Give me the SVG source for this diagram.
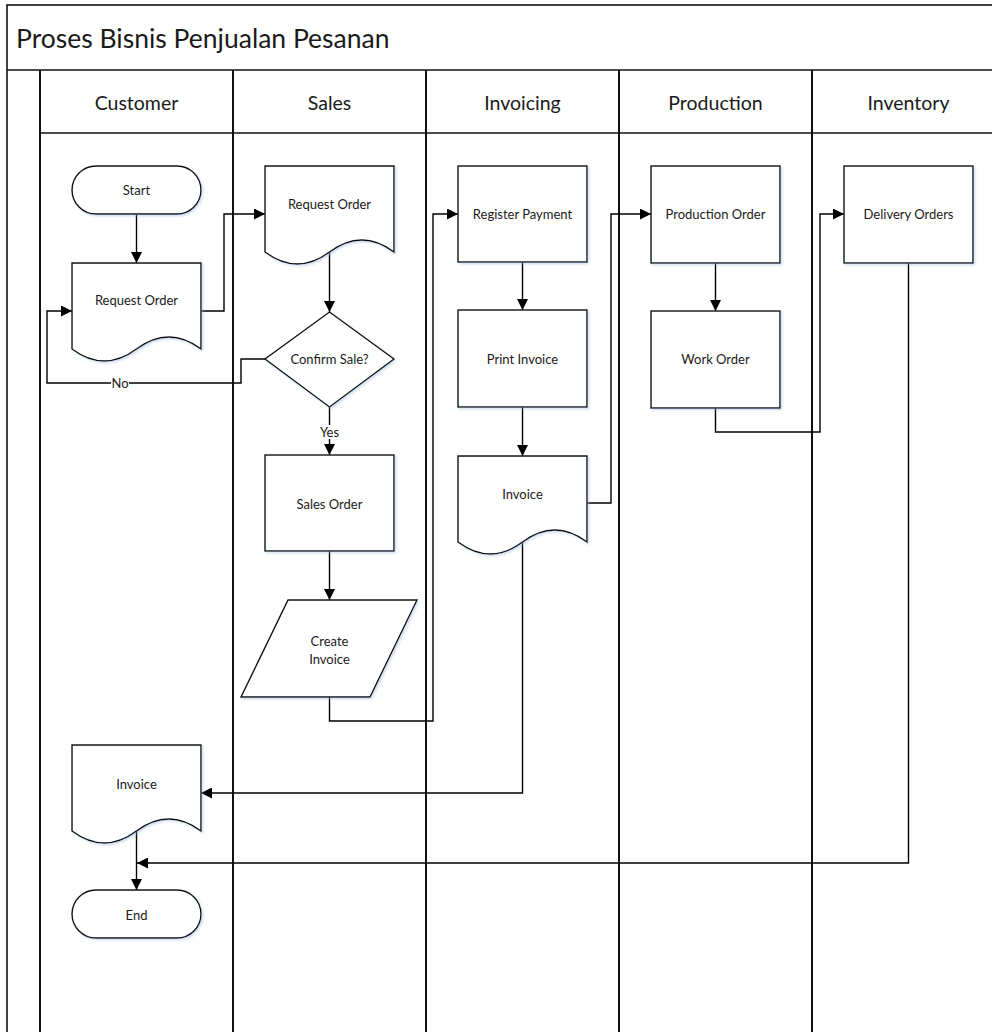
<svg xmlns="http://www.w3.org/2000/svg" width="992" height="1032" viewBox="0 0 992 1032">
<defs>
<style>
.pool{fill:none;stroke:#111;stroke-width:1.6}
.lane{fill:none;stroke:#111;stroke-width:2}
.shape{fill:#fff;stroke:#111;stroke-width:1.4;filter:url(#sh)}
.conn{fill:none;stroke:#000;stroke-width:1.4}
.t{font-family:Lato,Carlito,"Liberation Sans",sans-serif;fill:#1a1a1a;text-anchor:middle;dominant-baseline:central}
.node{font-size:13px}
.hdr{font-size:19.5px}
.title{font-size:26.5px;text-anchor:start}
.lbl{font-size:13px}
</style>
<filter id="sh" x="-10%" y="-10%" width="125%" height="125%">
<feDropShadow dx="1.5" dy="1.5" stdDeviation="1.2" flood-color="#8fb0dc" flood-opacity="0.45"/>
</filter>
<marker id="arr" markerUnits="userSpaceOnUse" markerWidth="11" markerHeight="11" viewBox="0 0 11 11" refX="11" refY="5.5" orient="auto">
<path d="M0,0 L11,5.5 L0,11 Z" fill="#000"/>
</marker>
</defs>
<rect width="992" height="1032" fill="#fff"/>
<g id="pool">
<rect class="pool" x="7" y="5" width="1010" height="1040"/>
<line class="pool" x1="7" y1="70" x2="992" y2="70"/>
<line class="lane" x1="40" y1="70" x2="40" y2="1032"/>
<line class="lane" x1="233" y1="70" x2="233" y2="1032"/>
<line class="lane" x1="426" y1="70" x2="426" y2="1032"/>
<line class="lane" x1="619" y1="70" x2="619" y2="1032"/>
<line class="lane" x1="812" y1="70" x2="812" y2="1032"/>
<line class="pool" x1="40" y1="133" x2="992" y2="133"/>
<text class="t title" x="16" y="38">Proses Bisnis Penjualan Pesanan</text>
<text class="t hdr" x="136.5" y="102">Customer</text>
<text class="t hdr" x="329.5" y="102">Sales</text>
<text class="t hdr" x="522.5" y="102">Invoicing</text>
<text class="t hdr" x="715.5" y="102">Production</text>
<text class="t hdr" x="908.5" y="102">Inventory</text>
</g>
<g id="connectors">
<path class="conn" d="M136.5,214 V263" marker-end="url(#arr)"/>
<path class="conn" d="M201,311 H224 V214 H265" marker-end="url(#arr)"/>
<path class="conn" d="M329.5,252 V312" marker-end="url(#arr)"/>
<path class="conn" d="M265,359 H241 V383 H47 V311 H72" marker-end="url(#arr)"/>
<path class="conn" d="M329.5,407 V455" marker-end="url(#arr)"/>
<path class="conn" d="M329.5,551 V600" marker-end="url(#arr)"/>
<path class="conn" d="M329.5,697 V721 H433 V214 H458" marker-end="url(#arr)"/>
<path class="conn" d="M522.5,262 V310" marker-end="url(#arr)"/>
<path class="conn" d="M522.5,407 V456" marker-end="url(#arr)"/>
<path class="conn" d="M587,503 H611 V214 H651" marker-end="url(#arr)"/>
<path class="conn" d="M522.5,542 V793 H201" marker-end="url(#arr)"/>
<path class="conn" d="M715.5,263 V311" marker-end="url(#arr)"/>
<path class="conn" d="M715.5,408 V432 H820 V214 H844" marker-end="url(#arr)"/>
<path class="conn" d="M908.5,263 V863 H137" marker-end="url(#arr)"/>
<path class="conn" d="M136.5,831 V890" marker-end="url(#arr)"/>
<rect x="111" y="376" width="18" height="14" fill="#fff"/>
<text class="t lbl" x="120" y="383">No</text>
<rect x="318" y="425" width="23" height="14" fill="#fff"/>
<text class="t lbl" x="329.5" y="432">Yes</text>
</g>
<g id="start">
<rect class="shape" x="72" y="166" width="129" height="48" rx="24"/>
<text class="t node" x="136.5" y="190">Start</text>
</g>
<g id="req-order-customer">
<path class="shape" d="M72,263 H201 V349 Q168.75,325 136.5,349 Q104.25,373 72,349 Z"/>
<text class="t node" x="136.5" y="300">Request Order</text>
</g>
<g id="invoice-customer">
<path class="shape" d="M72,745 H201 V831 Q168.75,807 136.5,831 Q104.25,855 72,831 Z"/>
<text class="t node" x="136.5" y="784">Invoice</text>
</g>
<g id="end">
<rect class="shape" x="72" y="890" width="129" height="48" rx="24"/>
<text class="t node" x="136.5" y="915">End</text>
</g>
<g id="req-order-sales">
<path class="shape" d="M265,166 H394 V252 Q361.75,228 329.5,252 Q297.25,276 265,252 Z"/>
<text class="t node" x="329.5" y="204">Request Order</text>
</g>
<g id="confirm-sale">
<path class="shape" d="M329.5,312 L394,359 L329.5,407 L265,359 Z"/>
<text class="t node" x="329.5" y="359">Confirm Sale?</text>
</g>
<g id="sales-order">
<rect class="shape" x="265" y="455" width="129" height="96"/>
<text class="t node" x="329.5" y="504">Sales Order</text>
</g>
<g id="create-invoice">
<path class="shape" d="M288,600 H417 L370,697 H241 Z"/>
<text class="t node" x="329.5" y="641">Create</text>
<text class="t node" x="329.5" y="659">Invoice</text>
</g>
<g id="register-payment">
<rect class="shape" x="458" y="166" width="129" height="96"/>
<text class="t node" x="522.5" y="214">Register Payment</text>
</g>
<g id="print-invoice">
<rect class="shape" x="458" y="310" width="129" height="97"/>
<text class="t node" x="522.5" y="359">Print Invoice</text>
</g>
<g id="invoice-invoicing">
<path class="shape" d="M458,456 H587 V542 Q554.75,518 522.5,542 Q490.25,566 458,542 Z"/>
<text class="t node" x="522.5" y="494">Invoice</text>
</g>
<g id="production-order">
<rect class="shape" x="651" y="166" width="129" height="97"/>
<text class="t node" x="715.5" y="214">Production Order</text>
</g>
<g id="work-order">
<rect class="shape" x="651" y="311" width="129" height="97"/>
<text class="t node" x="715.5" y="359">Work Order</text>
</g>
<g id="delivery-orders">
<rect class="shape" x="844" y="166" width="129" height="97"/>
<text class="t node" x="908.5" y="214">Delivery Orders</text>
</g>
</svg>
